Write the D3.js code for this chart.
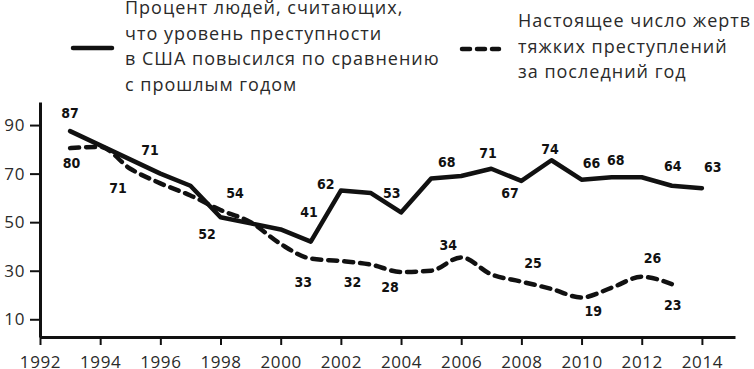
<!DOCTYPE html>
<html><head><meta charset="utf-8">
<script src="https://cdn.jsdelivr.net/npm/d3@7"></script>
<style>
body{margin:0;background:#fff;}
svg{display:block;}
</style></head>
<body>
<svg id="chart" width="754" height="369"></svg>
<script>
// ---- data ----
const perceptionYears = [1993,1996,1997,1998,1999,2000,2001,2002,2003,2004,2005,2006,2007,2008,2009,2010,2011,2012,2013,2014];
const perceptionValues = [87.5,70,65,52,49.5,47,42,63,62,54,68,69,72,67,75.5,67.5,68.5,68.5,65,64];
const victimYears = [1993,1994,1995,1996,1997,1998,1999,2000,2001,2002,2003,2004,2005,2006,2007,2008,2009,2010,2011,2012,2013];
const victimValues = [80.5,81,72,66,61,55,50,41,35,34,32.5,29.5,30,35.5,28.5,25.5,22.5,19,23,27.5,24.5];
const perceptionLabels = ["87","71","52","41","62","53","68","71","67","74","66","68","64","63"];
const victimLabels = ["80","71","54","33","32","28","34","25","19","26","23"];
const xTicks = [1992,1994,1996,1998,2000,2002,2004,2006,2008,2010,2012,2014];
const yTicks = [10,30,50,70,90];
const legendSolid = ["Процент людей, считающих,","что уровень преступности","в США повысился по сравнению","с прошлым годом"];
const legendDashed = ["Настоящее число жертв","тяжких преступлений","за последний год"];

// ---- layout ----
const svg = d3.select("#chart");
const x = d3.scaleLinear().domain([1992, 2015.1]).range([40, 735]);
const y = d3.scaleLinear().domain([2.7, 99.5]).range([337, 102]);
const ink = "#111";
const textCol = "#2a2a2a";

// axes
const gx = svg.append("g").attr("transform","translate(0,337)")
  .call(d3.axisBottom(x).tickValues(xTicks).tickFormat(d3.format("d")).tickSize(8).tickSizeOuter(0).tickPadding(11));
const gy = svg.append("g").attr("transform","translate(40,0)")
  .call(d3.axisLeft(y).tickValues(yTicks).tickSize(10).tickSizeOuter(0).tickPadding(5));
[gx,gy].forEach(g=>{
  g.select(".domain").attr("stroke",ink).attr("stroke-width",3);
  g.selectAll(".tick line").attr("stroke",ink).attr("stroke-width",2);
  g.selectAll(".tick text").attr("fill",textCol).style("font-family","'Open Sans'").style("font-size","17px").style("letter-spacing","0.6px");
});

// lines
const solidData = perceptionYears.map((yr,i)=>[yr,perceptionValues[i]]);
const dashData = victimYears.map((yr,i)=>[yr,victimValues[i]]);
svg.append("path").datum(solidData).attr("d",d3.line().x(d=>x(d[0])).y(d=>y(d[1])).curve(d3.curveLinear))
  .attr("fill","none").attr("stroke",ink).attr("stroke-width",4.5).attr("stroke-linejoin","round").attr("stroke-linecap","round");
svg.append("path").datum(dashData).attr("d",d3.line().x(d=>x(d[0])).y(d=>y(d[1])).curve(d3.curveMonotoneX))
  .attr("fill","none").attr("stroke",ink).attr("stroke-width",4.5).attr("stroke-dasharray","9,7").attr("stroke-linecap","round");

// value label anchors, in chart (year, value) coordinates
const solidLabelAt = [[1993.0,94.9],[1995.66,79.7],[1997.55,45.1],[2000.94,54.3],[2001.5,65.7],[2003.69,62.1],[2005.52,74.9],[2006.89,78.6],[2007.62,61.9],[2008.95,80.0],[2010.33,74.5],[2011.14,75.6],[2013.03,73.1],[2014.36,72.6]];
const dashLabelAt = [[1993.05,74.5],[1994.59,63.9],[1998.48,61.9],[2000.75,25.5],[2002.39,25.5],[2003.63,23.4],[2005.57,40.6],[2008.39,33.3],[2010.39,13.5],[2012.36,35.1],[2013.03,15.9]];
const lblStyle = s=>s.attr("text-anchor","middle").attr("dominant-baseline","central")
  .style("font-family","'DejaVu Sans Condensed','DejaVu Sans'").style("font-weight","bold").style("font-size","14px").attr("fill",ink);
svg.append("g").selectAll("text").data(perceptionLabels).join("text")
  .attr("x",(d,i)=>x(solidLabelAt[i][0])).attr("y",(d,i)=>y(solidLabelAt[i][1]))
  .text(d=>d).call(lblStyle);
svg.append("g").selectAll("text").data(victimLabels).join("text")
  .attr("x",(d,i)=>x(dashLabelAt[i][0])).attr("y",(d,i)=>y(dashLabelAt[i][1]))
  .text(d=>d).call(lblStyle);

// legend
svg.append("line").attr("x1",73).attr("x2",112).attr("y1",48).attr("y2",48)
  .attr("stroke",ink).attr("stroke-width",4.5).attr("stroke-linecap","round");
svg.append("line").attr("x1",462).attr("x2",499).attr("y1",49).attr("y2",49)
  .attr("stroke",ink).attr("stroke-width",4.5).attr("stroke-dasharray","8,7").attr("stroke-linecap","round");
const legStyle = s=>s.style("font-family","'Open Sans'").style("font-size","18px").style("letter-spacing","1px").attr("fill",textCol);
svg.append("g").selectAll("text").data(legendSolid).join("text")
  .attr("x",125).attr("y",(d,i)=>14+i*25.7).text(d=>d).call(legStyle);
svg.append("g").selectAll("text").data(legendDashed).join("text")
  .attr("x",518).attr("y",(d,i)=>27+i*25.5).text(d=>d).call(legStyle);
</script>
</body></html>
